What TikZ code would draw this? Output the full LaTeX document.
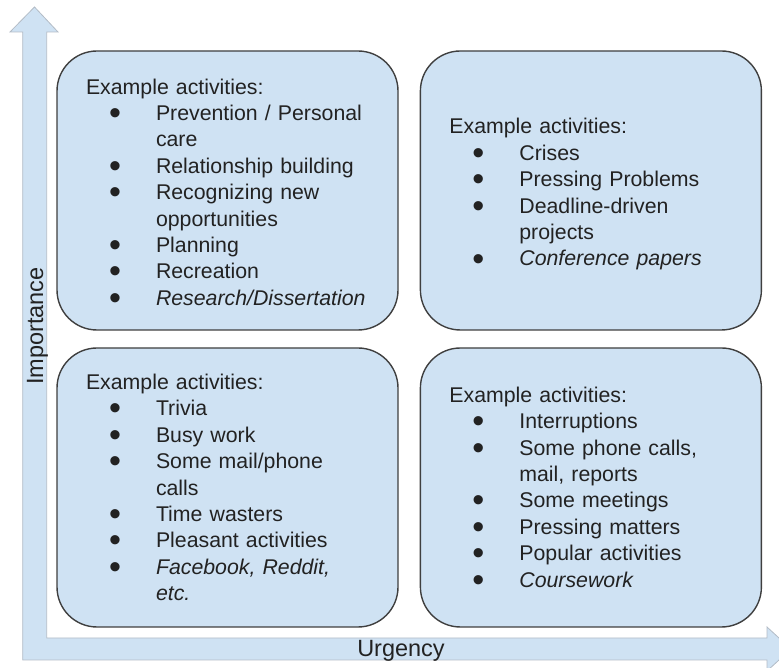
\documentclass[tikz,border=0pt]{standalone}
\usepackage{fontspec}
\setmainfont{Liberation Sans}
\usetikzlibrary{positioning}

\definecolor{quadfill}{HTML}{CFE2F3}
\definecolor{quadedge}{HTML}{3F3F3F}
\definecolor{axisedge}{HTML}{B3BCC6}
\definecolor{inktext}{HTML}{222222}

% one bullet point, wrapped lines hang under the text
\newcommand{\activity}[1]{\par\hangindent=70pt\hangafter=1\noindent\makebox[70pt][l]{\hspace{23pt}\raisebox{-0.19em}{\scalebox{1.6}{\textbullet}}}#1\par}

\begin{document}
\begin{tikzpicture}[x=1pt,y=1pt]
		\newcommand{\quadw}{341} % width of the quadrants
		\newcommand{\quadh}{279} % height of the quadrants
		\newcommand{\pad}{29.5} % text inset from the left edge

		% set the styles of the quadrants and their texts
		\tikzset{
			quad/.style={
				draw=quadedge,
				line width=1.4pt,
				fill=quadfill,
				rounded corners=40pt,
				minimum width=\quadw pt,
				minimum height=\quadh pt,
				inner sep=0pt
				},
			acts/.style={
				text width=300pt,
				inner sep=0pt,
				align=left,
				text=inktext,
				font=\fontsize{21.3}{26.4}\selectfont
				},
			axislabel/.style={
				inner sep=0pt,
				text=inktext,
				font=\fontsize{23.5}{28}\selectfont
				}
		}
		\useasboundingbox (0,0) rectangle (779,668);

		% axes, the arrow head on the right runs off the page
		\begin{scope}
			\clip (0,0) rectangle (779,668);
			\filldraw[fill=quadfill, draw=axisedge, line width=0.8pt]
				(22.7,8) -- (767,8) -- (767,-3) -- (791,19) -- (767,41) -- (767,30)
				-- (46.7,30) -- (46.7,636) -- (58,636) -- (34.5,661) -- (10,636)
				-- (22.7,636) -- cycle;
		\end{scope}
		\node[axislabel, rotate=90, anchor=base] (importance) at (43,342) {Importance};
		\node[axislabel, anchor=base] (urgency) at (401,11) {Urgency};

		% quadrants
		\node[quad] (topleft) at (227.5,477.5) {};
		\node[quad, right=21pt of topleft] (topright) {};
		\node[quad, below=16.6pt of topleft] (bottomleft) {};
		\node[quad, below=16.6pt of topright] (bottomright) {};

		% activities
		\node[acts, right=\pad pt of topleft.west, yshift=-3.5pt] (topleft text) {Example activities:
			\activity{Prevention / Personal\newline care}
			\activity{Relationship building}
			\activity{Recognizing new\newline opportunities}
			\activity{Planning}
			\activity{Recreation}
			\activity{\textit{Research/Dissertation}}};
		\node[acts, right=\pad pt of topright.west, yshift=-4pt] (topright text) {Example activities:
			\activity{Crises}
			\activity{Pressing Problems}
			\activity{Deadline-driven\newline projects}
			\activity{\textit{Conference papers}}};
		\node[acts, right=\pad pt of bottomleft.west] (bottomleft text) {Example activities:
			\activity{Trivia}
			\activity{Busy work}
			\activity{Some mail/phone\newline calls}
			\activity{Time wasters}
			\activity{Pleasant activities}
			\activity{\textit{Facebook, Reddit,\newline etc.}}};
		\node[acts, right=\pad pt of bottomright.west, yshift=-1.5pt] (bottomright text) {Example activities:
			\activity{Interruptions}
			\activity{Some phone calls,\newline mail, reports}
			\activity{Some meetings}
			\activity{Pressing matters}
			\activity{Popular activities}
			\activity{\textit{Coursework}}};
\end{tikzpicture}
\end{document}
